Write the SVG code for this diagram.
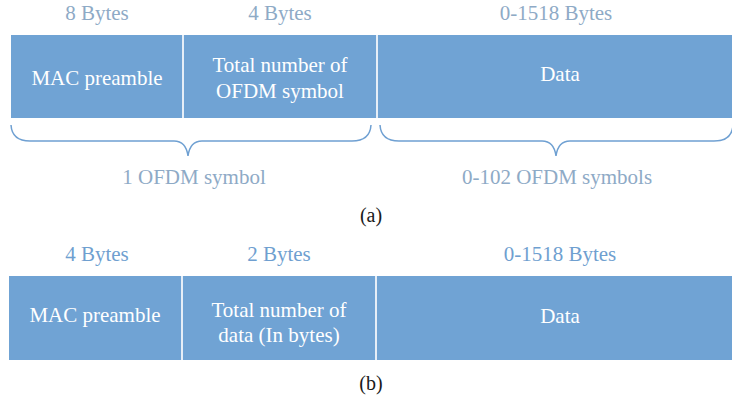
<svg xmlns="http://www.w3.org/2000/svg" width="732" height="398" viewBox="0 0 732 398">
<style>
text{font-family:"Liberation Serif","Times New Roman",serif;text-anchor:middle}
.hdr{font-size:21px;fill:#8eaac6}
.hdrb{font-size:21px;fill:#6f9fd0}
.cell{fill:#70a3d4}
.lbl{font-size:21px;fill:#ffffff}
.div{stroke:#e6eef7;stroke-width:2}
.brace{fill:none;stroke:#6fa0d2;stroke-width:1.5}
.cap{font-size:20px;fill:#1a1a1a}
</style>
<rect width="732" height="398" fill="#ffffff"/>
<g id="panel-a">
  <g id="a-mac">
    <text class="hdr" x="97" y="20">8 Bytes</text>
    <rect class="cell" x="11" y="35" width="172" height="83"/>
    <text class="lbl" x="97" y="85">MAC preamble</text>
  </g>
  <g id="a-total">
    <text class="hdr" x="280" y="20">4 Bytes</text>
    <rect class="cell" x="183" y="35" width="194" height="83"/>
    <text class="lbl" x="280" y="72">Total number of</text>
    <text class="lbl" x="280" y="98">OFDM symbol</text>
  </g>
  <g id="a-data">
    <text class="hdr" x="556" y="20">0-1518 Bytes</text>
    <rect class="cell" x="377" y="35" width="355" height="83"/>
    <text class="lbl" x="560" y="81">Data</text>
  </g>
  <line class="div" x1="183" y1="35" x2="183" y2="118"/>
  <line class="div" x1="377" y1="35" x2="377" y2="118"/>
</g>
<g id="connectors">
  <path class="brace" d="M11,125 Q12,141 30,141 L174,141 Q186,141 188,156 Q190,141 202,141 L352,141 Q370,141 371,125"/>
  <path class="brace" d="M380,125 Q381,141 399,141 L542,141 Q554,141 556,156 Q558,141 570,141 L714,141 Q732,141 733,125"/>
</g>
<g id="captions-a">
  <text class="hdr" x="194" y="184">1 OFDM symbol</text>
  <text class="hdr" x="557" y="184">0-102 OFDM symbols</text>
  <text class="cap" x="371" y="222">(a)</text>
</g>
<g id="panel-b">
  <g id="b-mac">
    <text class="hdrb" x="97" y="261">4 Bytes</text>
    <rect class="cell" x="9" y="276" width="173" height="84"/>
    <text class="lbl" x="95" y="322">MAC preamble</text>
  </g>
  <g id="b-total">
    <text class="hdrb" x="279" y="261">2 Bytes</text>
    <rect class="cell" x="182" y="276" width="194" height="84"/>
    <text class="lbl" x="279" y="317">Total number of</text>
    <text class="lbl" x="279" y="342">data (In bytes)</text>
  </g>
  <g id="b-data">
    <text class="hdrb" x="560" y="261">0-1518 Bytes</text>
    <rect class="cell" x="376" y="276" width="356" height="84"/>
    <text class="lbl" x="560" y="323">Data</text>
  </g>
  <line class="div" x1="182" y1="276" x2="182" y2="360"/>
  <line class="div" x1="376" y1="276" x2="376" y2="360"/>
  <text class="cap" x="371" y="390">(b)</text>
</g>
</svg>
